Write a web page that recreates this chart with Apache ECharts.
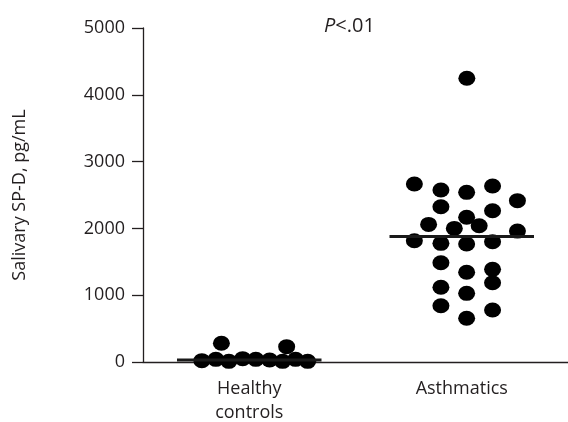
<!DOCTYPE html>
<html><head><meta charset="utf-8">
<script src="https://cdn.jsdelivr.net/npm/echarts@6/dist/echarts.min.js"></script>
<style>html,body{margin:0;padding:0;background:#fff}#c{width:568px;height:422px}</style>
</head><body><div id="c"></div>
<script>
const categories = ["Healthy\ncontrols", "Asthmatics"];
const yTicks = [0, 1000, 2000, 3000, 4000, 5000];
// x = jitter position on a 0..2 scale (category centres at 0.5 and 1.5), y = SP-D (pg/mL)
const healthyX = [0.277, 0.343, 0.404, 0.469, 0.531, 0.596, 0.657, 0.718, 0.775, 0.369, 0.676];
const healthyY = [20, 40, 10, 50, 40, 30, 10, 40, 10, 280, 230];
const asthmaX = [1.277, 1.402, 1.523, 1.645, 1.762, 1.402, 1.645, 1.523, 1.344, 1.465, 1.582, 1.762,
                 1.277, 1.402, 1.523, 1.645, 1.402, 1.523, 1.645, 1.645, 1.402, 1.523, 1.402, 1.645, 1.523, 1.524];
const asthmaY = [2665, 2575, 2540, 2635, 2415, 2325, 2265, 2166, 2060, 2000, 2040, 1960,
                 1815, 1776, 1766, 1800, 1486, 1343, 1387, 1187, 1118, 1028, 843, 778, 654, 4247];
const medians = [30, 1880];
const pLetter = "P";
const pRest = "<.01";

const font = "Open Sans";
const ink = '#231f20';
const medianHalf = 0.34;
function pts(xs, ys) { return xs.map((x, i) => [x, ys[i]]); }
function medianLine(i) { const c = i + 0.5; return [[c - medianHalf, medians[i]], [c + medianHalf, medians[i]]]; }

const chart = echarts.init(document.getElementById('c'));
chart.setOption({
  animation: false,
  backgroundColor: '#fff',
  title: {
    text: '{i|' + pLetter + '}' + pRest,
    left: 319, top: 11,
    textStyle: { rich: { i: { fontStyle: 'italic', fontFamily: font, fontSize: 20, color: ink } },
      fontFamily: font, fontSize: 20, fontWeight: 'normal', color: ink }
  },
  grid: { left: 143, right: 0, top: 28, bottom: 60, containLabel: false, outerBoundsMode: 'none' },
  xAxis: [
    { type: 'category', data: categories, boundaryGap: true,
      axisLine: { lineStyle: { color: ink, width: 1.3 } },
      axisTick: { alignWithLabel: true, length: 12, lineStyle: { color: ink, width: 1.3 } },
      axisLabel: { fontFamily: font, fontSize: 18, color: ink, margin: 15, lineHeight: 24 } },
    { type: 'value', min: 0, max: 2, show: false }
  ],
  yAxis: {
    type: 'value', min: 0, max: 5000, interval: 1000,
    name: 'Salivary SP-D, pg/mL', nameLocation: 'middle', nameGap: 114, nameRotate: 90,
    nameTextStyle: { fontFamily: font, fontSize: 18, color: ink },
    axisLine: { show: true, lineStyle: { color: ink, width: 1.3 } },
    axisTick: { show: true, length: 11, lineStyle: { color: ink, width: 1.3 } },
    axisLabel: { fontFamily: font, fontSize: 18, color: ink, margin: 18,
      formatter: v => yTicks.includes(v) ? String(v) : '' },
    splitLine: { show: false }
  },
  series: [
    { type: 'scatter', xAxisIndex: 1, data: pts(healthyX, healthyY), symbol: 'circle', symbolSize: [17, 15],
      itemStyle: { color: '#000', opacity: 1 }, z: 3 },
    { type: 'scatter', xAxisIndex: 1, data: pts(asthmaX, asthmaY), symbol: 'circle', symbolSize: [17, 15],
      itemStyle: { color: '#000', opacity: 1 }, z: 3 },
    { type: 'line', xAxisIndex: 1, data: medianLine(0), symbol: 'none', lineStyle: { color: '#1a1a1a', width: 3 }, z: 4 },
    { type: 'line', xAxisIndex: 1, data: medianLine(1), symbol: 'none', lineStyle: { color: '#1a1a1a', width: 3 }, z: 4 }
  ]
});
</script></body></html>
